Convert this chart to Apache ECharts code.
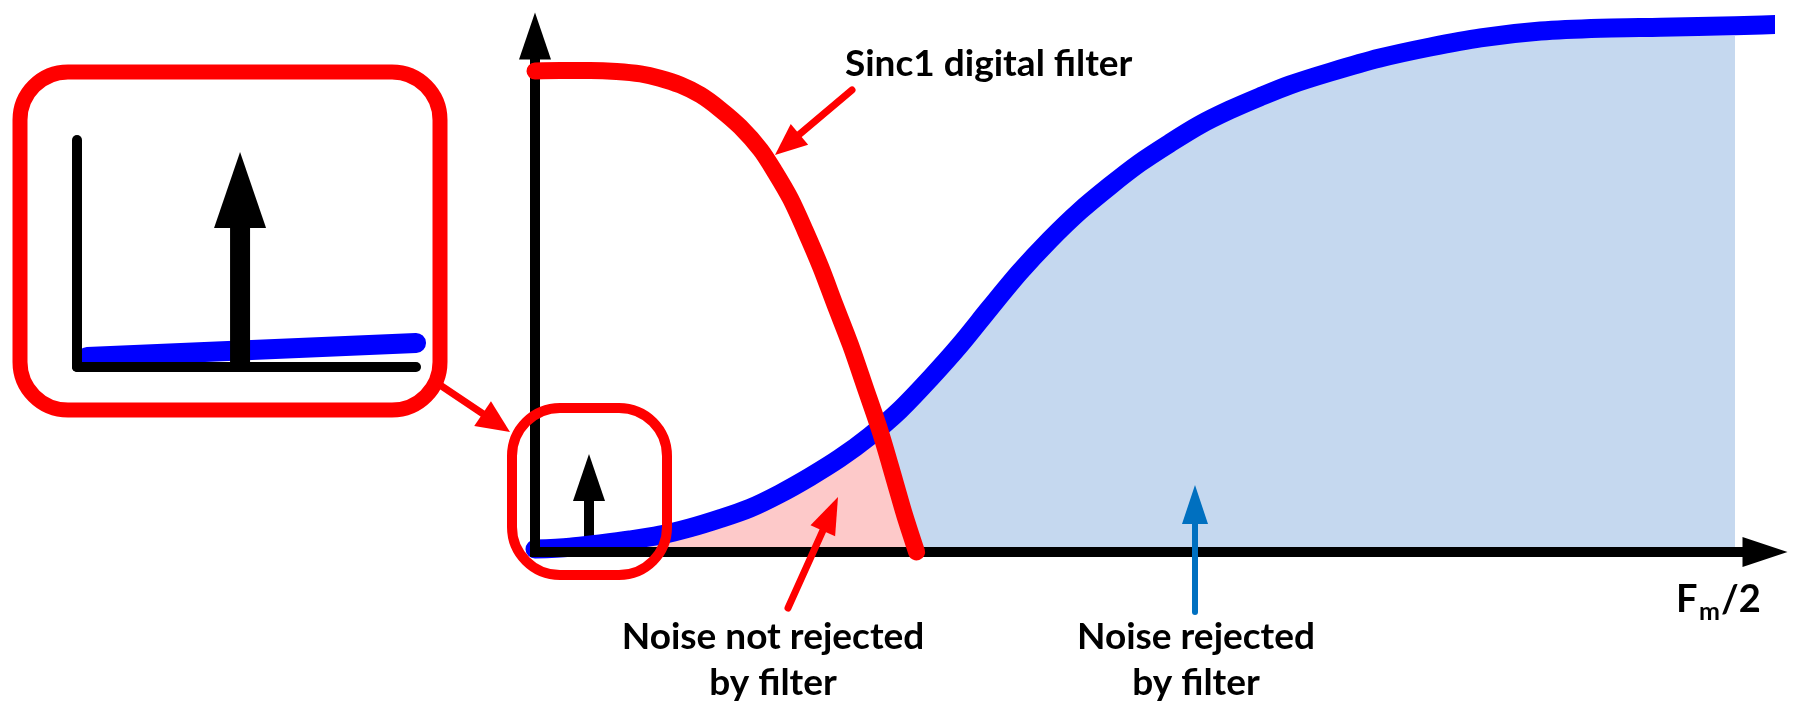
<!DOCTYPE html>
<html><head><meta charset="utf-8">
<script src="https://cdn.jsdelivr.net/npm/echarts@6/dist/echarts.min.js"></script>
<style>html,body{margin:0;padding:0;background:#fff}#c{width:1800px;height:702px}</style>
</head><body><div id="c"></div>
<script>
// ---- data (frequency normalised so that 1 = Fm/2; magnitude normalised so that 1 = filter passband) ----
const noiseX = [0, 0.029, 0.054, 0.079, 0.104, 0.129, 0.154, 0.179, 0.204, 0.229, 0.254, 0.279, 0.304, 0.329, 0.354, 0.379, 0.404, 0.429, 0.454, 0.479, 0.504, 0.529, 0.554, 0.579, 0.604, 0.629, 0.663, 0.704, 0.746, 0.788, 0.838, 0.888, 0.938, 1.0, 1.052];
const noiseY = [0.006, 0.010, 0.017, 0.025, 0.035, 0.050, 0.069, 0.091, 0.121, 0.156, 0.195, 0.241, 0.295, 0.360, 0.430, 0.507, 0.582, 0.649, 0.709, 0.761, 0.809, 0.850, 0.888, 0.919, 0.946, 0.971, 0.998, 1.027, 1.050, 1.069, 1.083, 1.089, 1.091, 1.094, 1.098];
const sincX = [0, 0.021, 0.046, 0.068, 0.088, 0.104, 0.121, 0.138, 0.154, 0.171, 0.188, 0.200, 0.213, 0.225, 0.238, 0.250, 0.263, 0.275, 0.288, 0.300, 0.308, 0.318];
const sincY = [1.0, 1.001, 1.001, 0.999, 0.994, 0.985, 0.971, 0.950, 0.921, 0.884, 0.836, 0.790, 0.734, 0.669, 0.593, 0.514, 0.430, 0.343, 0.248, 0.146, 0.077, 0];
const crossX = 0.284;      // where the filter curve crosses the noise curve
const bandEdge = 1.0;      // Fm/2
const toneMain = [0.045, 0, 0.204];   // x, base, tip
const insetNoiseX = [0.03, 1.0];
const insetNoiseY = [0.044, 0.106];
const toneInset = [0.481, 0, 0.947];
const labelSinc = 'Sinc1 digital filter';
const labelNotRej = 'Noise not rejected\nby filter';
const labelRej = 'Noise rejected\nby filter';
const labelFm = ['F', 'm', '/2'];

// ---- build ----
const noise = noiseX.map((x, i) => [x, noiseY[i]]);
const sinc = sincX.map((x, i) => [x, sincY[i]]);
const blueFill = noise.filter(p => p[0] <= bandEdge);
const pinkFill = noise.filter(p => p[0] <= crossX).concat(sinc.filter(p => p[0] > crossX));
const insetNoise = insetNoiseX.map((x, i) => [x, insetNoiseY[i]]);

const FONT = 'Lato, "Open Sans", sans-serif';

function toneRender(spec) {
  return function (params, api) {
    const x = api.value(0), y0 = api.value(1), y1 = api.value(2);
    const p0 = api.coord([x, y0]), p1 = api.coord([x, y1]);
    const hb = p1[1] + spec.head;
    return { type: 'group', children: [
      { type: 'rect', shape: { x: p0[0] - spec.shaft / 2, y: hb - 1, width: spec.shaft, height: p0[1] - hb + 1 }, style: { fill: spec.color } },
      { type: 'polygon', shape: { points: [[p1[0], p1[1]], [p1[0] - spec.hw / 2, hb], [p1[0] + spec.hw / 2, hb]] }, style: { fill: spec.color } }
    ]};
  };
}

function arrow(x0, y0, x1, y1, shaft, hl, hw, color) {
  const dx = x1 - x0, dy = y1 - y0, L = Math.hypot(dx, dy), ux = dx / L, uy = dy / L;
  const bx = x1 - ux * hl, by = y1 - uy * hl, nx = -uy, ny = ux;
  return [
    { type: 'line', z: 20, shape: { x1: x0, y1: y0, x2: bx + ux * 3, y2: by + uy * 3 }, style: { stroke: color, lineWidth: shaft, lineCap: 'round' } },
    { type: 'polygon', z: 20, shape: { points: [[x1, y1], [bx + nx * hw / 2, by + ny * hw / 2], [bx - nx * hw / 2, by - ny * hw / 2]] }, style: { fill: color } }
  ];
}

const axisCommon = { splitLine: { show: false }, axisTick: { show: false }, axisLabel: { show: false } };

const chart = echarts.init(document.getElementById('c'), null, { renderer: 'canvas' });
chart.setOption({
  animation: false,
  backgroundColor: '#ffffff',
  grid: [
    { left: 535, top: 36, width: 1230, height: 516, containLabel: false, outerBoundsMode: 'none' },
    { left: 77, top: 140, width: 339, height: 227, containLabel: false, outerBoundsMode: 'none' }
  ],
  xAxis: [
    Object.assign({ type: 'value', gridIndex: 0, min: 0, max: 1.025, z: 5,
      axisLine: { show: true, onZero: false, symbol: ['none', 'triangle'], symbolSize: [30, 45],
        lineStyle: { color: '#000', width: 10, cap: 'square' } } }, axisCommon),
    Object.assign({ type: 'value', gridIndex: 1, min: 0, max: 1, z: 5,
      axisLine: { show: true, onZero: false, lineStyle: { color: '#000', width: 10, cap: 'round' } } }, axisCommon)
  ],
  yAxis: [
    Object.assign({ type: 'value', gridIndex: 0, min: 0, max: 1.0728, z: 5,
      axisLine: { show: true, onZero: false, symbol: ['none', 'triangle'], symbolSize: [32, 47],
        lineStyle: { color: '#000', width: 10, cap: 'square' } } }, axisCommon),
    Object.assign({ type: 'value', gridIndex: 1, min: 0, max: 1, z: 5,
      axisLine: { show: true, onZero: false, lineStyle: { color: '#000', width: 10, cap: 'round' } } }, axisCommon)
  ],
  series: [
    { name: 'rejected', type: 'line', xAxisIndex: 0, yAxisIndex: 0, data: blueFill, smooth: 0.3, showSymbol: false, symbol: 'none',
      lineStyle: { width: 0 }, areaStyle: { color: '#c5d8ef', opacity: 1 }, z: 1, silent: true },
    { name: 'not rejected', type: 'line', xAxisIndex: 0, yAxisIndex: 0, data: pinkFill, smooth: 0.3, showSymbol: false, symbol: 'none',
      lineStyle: { width: 0 }, areaStyle: { color: '#fdc9c9', opacity: 1 }, z: 2, silent: true },
    { name: 'tone', type: 'custom', xAxisIndex: 0, yAxisIndex: 0, data: [toneMain], clip: false, z: 3,
      renderItem: toneRender({ shaft: 10, head: 47, hw: 32, color: '#000' }) },
    { name: 'noise', type: 'line', xAxisIndex: 0, yAxisIndex: 0, data: noise, smooth: 0.3, showSymbol: false, symbol: 'none', clip: false,
      lineStyle: { color: '#0000ff', width: 19, cap: 'round', join: 'round' }, z: 4 },
    { name: 'sinc1', type: 'line', xAxisIndex: 0, yAxisIndex: 0, data: sinc, smooth: 0.3, showSymbol: false, symbol: 'none', clip: false,
      lineStyle: { color: '#ff0000', width: 17, cap: 'round', join: 'round' }, z: 6 },
    { name: 'inset noise', type: 'line', xAxisIndex: 1, yAxisIndex: 1, data: insetNoise, showSymbol: false, symbol: 'none', clip: false,
      lineStyle: { color: '#0000ff', width: 20, cap: 'round' }, z: 4 },
    { name: 'inset tone', type: 'custom', xAxisIndex: 1, yAxisIndex: 1, data: [toneInset], clip: false, z: 6,
      renderItem: toneRender({ shaft: 20, head: 76, hw: 52, color: '#000' }) }
  ],
  graphic: [
    { type: 'rect', z: 10, shape: { x: 20, y: 72, width: 420, height: 338, r: 48 }, style: { fill: 'none', stroke: '#ff0000', lineWidth: 15 } },
    { type: 'rect', z: 10, shape: { x: 512, y: 408, width: 155, height: 167, r: 48 }, style: { fill: 'none', stroke: '#ff0000', lineWidth: 10 } },
    ...arrow(440, 385, 510, 432, 7, 33, 30, '#ff0000'),
    ...arrow(852, 90, 775, 155, 7, 32, 27, '#ff0000'),
    ...arrow(788, 608, 838, 497, 7, 37, 27, '#ff0000'),
    ...arrow(1195, 612, 1195, 485, 6, 39, 26, '#0070c0'),
    { type: 'text', z: 20, x: 845, y: 64, style: { text: labelSinc, font: 'bold 37px ' + FONT, fill: '#000', verticalAlign: 'middle' } },
    { type: 'text', z: 20, x: 773, y: 660, style: { text: labelNotRej, font: 'bold 37px ' + FONT, fill: '#000', align: 'center', verticalAlign: 'middle', lineHeight: 46 } },
    { type: 'text', z: 20, x: 1196, y: 660, style: { text: labelRej, font: 'bold 37px ' + FONT, fill: '#000', align: 'center', verticalAlign: 'middle', lineHeight: 46 } },
    { type: 'text', z: 20, x: 1676, y: 619, style: { text: labelFm[0], font: 'bold 38px ' + FONT, fill: '#000', verticalAlign: 'bottom' } },
    { type: 'text', z: 20, x: 1699, y: 624, style: { text: labelFm[1], font: 'bold 25px ' + FONT, fill: '#000', verticalAlign: 'bottom' } },
    { type: 'text', z: 20, x: 1721, y: 619, style: { text: labelFm[2], font: 'bold 38px ' + FONT, fill: '#000', verticalAlign: 'bottom' } }
  ]
});
</script></body></html>
